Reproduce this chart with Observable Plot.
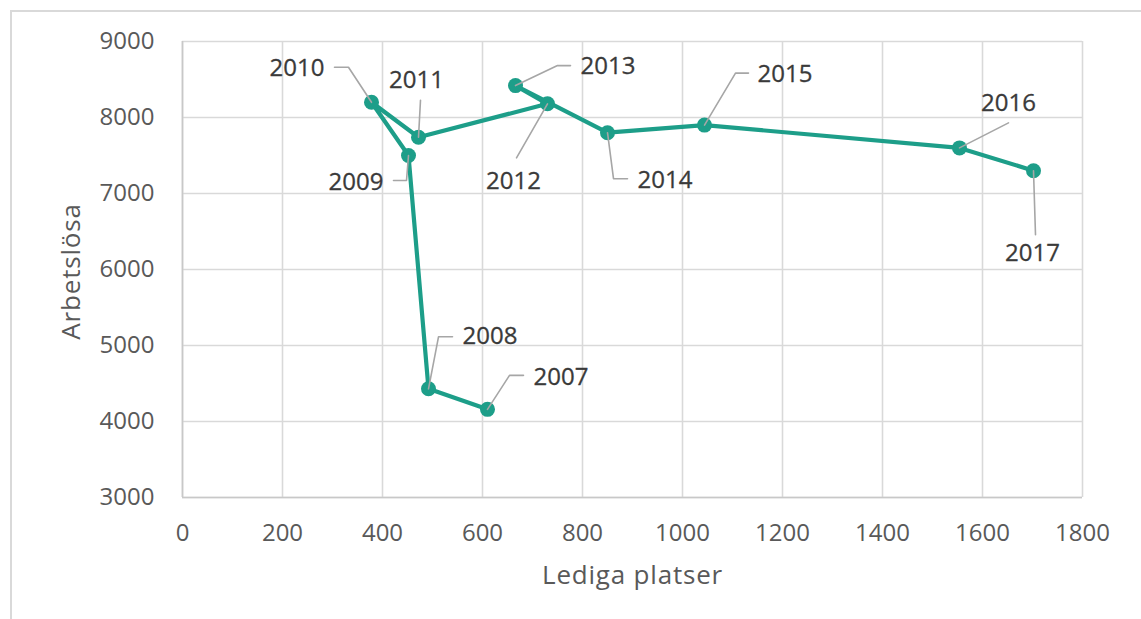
<!DOCTYPE html>
<html><head><meta charset="utf-8">
<script src="https://cdn.jsdelivr.net/npm/d3@7"></script>
<script src="https://cdn.jsdelivr.net/npm/@observablehq/plot@0.6"></script>
<style>
html,body{margin:0;padding:0;background:#fff;overflow:hidden;width:1141px;height:619px}
#frame{position:absolute;left:10px;top:10px;width:1160px;height:640px;border:2px solid #d9d9d9;box-sizing:border-box}
#chart{position:absolute;left:0;top:0}
</style></head><body><div id="frame"></div><div id="chart"></div>
<script>
// data
const years = ["2007","2008","2009","2010","2011","2012","2013","2014","2015","2016","2017"];
const ledigaPlatser = [610, 492, 452, 378, 472, 730, 666, 850, 1044, 1554, 1702];
const arbetslosa = [4160, 4430, 7500, 8200, 7740, 8180, 8420, 7800, 7900, 7600, 7300];
const xTicks = [0, 200, 400, 600, 800, 1000, 1200, 1400, 1600, 1800];
const yTicks = [3000, 4000, 5000, 6000, 7000, 8000, 9000];
const xTitle = "Lediga platser";
const yTitle = "Arbetslösa";

// label layout (pixel offsets from each point): leader path and text anchor
const leaderPaths = [
  [[22,-34],[36,-34]],
  [[10,-52],[24,-52]],
  [[-2,25],[-15,25]],
  [[-23,-35],[-37,-35]],
  [[2,-37]],
  [[-31,54]],
  [[42,-20],[55,-20]],
  [[6,46],[20,46]],
  [[31,-52],[44,-52]],
  [[49,-25]],
  [[2,64]]
];
const labelPos = [
  [46,-32,"start"],
  [34,-53,"start"],
  [-25,27,"end"],
  [-47,-34,"end"],
  [-2,-57,"middle"],
  [-34,77,"middle"],
  [65,-19,"start"],
  [30,48,"start"],
  [53,-51,"start"],
  [49,-45,"middle"],
  [-1,83,"middle"]
];

const W = 1141, H = 619, mL = 182, mR = 59, mT = 41, mB = 122;
const xDom = [0, 1800], yDom = [3000, 9000];
const kx = (xDom[1]-xDom[0])/(W-mL-mR), ky = (yDom[1]-yDom[0])/(H-mT-mB);

const pts = years.map((yr,i)=>({year:yr, x:ledigaPlatser[i], y:arbetslosa[i]}));
const leaders = [];
pts.forEach((p,i)=>{
  leaders.push({year:p.year, x:p.x, y:p.y});
  leaderPaths[i].forEach(([dx,dy])=>leaders.push({year:p.year, x:p.x+dx*kx, y:p.y-dy*ky}));
});
const labels = pts.map((p,i)=>({year:p.year, x:p.x+labelPos[i][0]*kx, y:p.y-labelPos[i][1]*ky, anchor:labelPos[i][2]}));

const font = "'Open Sans', sans-serif";
const textMark = (anchor) => Plot.text(labels.filter(d=>d.anchor===anchor), {x:"x", y:"y", text:"year", textAnchor:anchor, fill:"#3a3a3a", fontSize:24, stroke:"#3a3a3a", strokeWidth:0.3});

const chart = Plot.plot({
  width: W, height: H,
  marginLeft: mL, marginRight: mR, marginTop: mT, marginBottom: mB,
  style: {fontFamily: font, background: "transparent", overflow: "visible"},
  x: {domain: xDom},
  y: {domain: yDom},
  marks: [
    Plot.gridX(xTicks, {stroke:"#d9d9d9", strokeOpacity:1, strokeWidth:1.6}),
    Plot.gridY(yTicks, {stroke:"#d9d9d9", strokeOpacity:1, strokeWidth:1.6}),
    Plot.ruleX([0], {stroke:"#c8c8c8", strokeWidth:1.6}),
    Plot.ruleY([3000], {stroke:"#c8c8c8", strokeWidth:1.6}),
    Plot.axisX(xTicks, {tickSize:0, tickPadding:26, fontSize:24, fill:"#595959", label:null, tickFormat:d=>String(d)}),
    Plot.axisY(yTicks, {tickSize:0, tickPadding:28, fontSize:24, fill:"#595959", label:null, tickFormat:d=>String(d)}),
    Plot.line(pts, {x:"x", y:"y", stroke:"#1d9e89", strokeWidth:4.2}),
    Plot.dot(pts, {x:"x", y:"y", r:7.5, fill:"#1d9e89"}),
    Plot.line(leaders, {x:"x", y:"y", z:"year", stroke:"#a6a6a6", strokeWidth:1.6}),
    textMark("start"), textMark("end"), textMark("middle"),
    Plot.text([xTitle], {frameAnchor:"bottom", textAnchor:"middle", lineAnchor:"middle", dy:78, text:d=>d, fill:"#595959", fontSize:26}),
    Plot.text([yTitle], {frameAnchor:"left", textAnchor:"middle", lineAnchor:"middle", dx:-111, dy:2, rotate:-90, text:d=>d, fill:"#595959", fontSize:26})
  ]
});
d3.select(chart).selectAll("text").filter(function(){ const t = this.textContent; return t === xTitle || t === yTitle; }).style("letter-spacing", "0.8px");
document.getElementById("chart").appendChild(chart);
</script></body></html>
